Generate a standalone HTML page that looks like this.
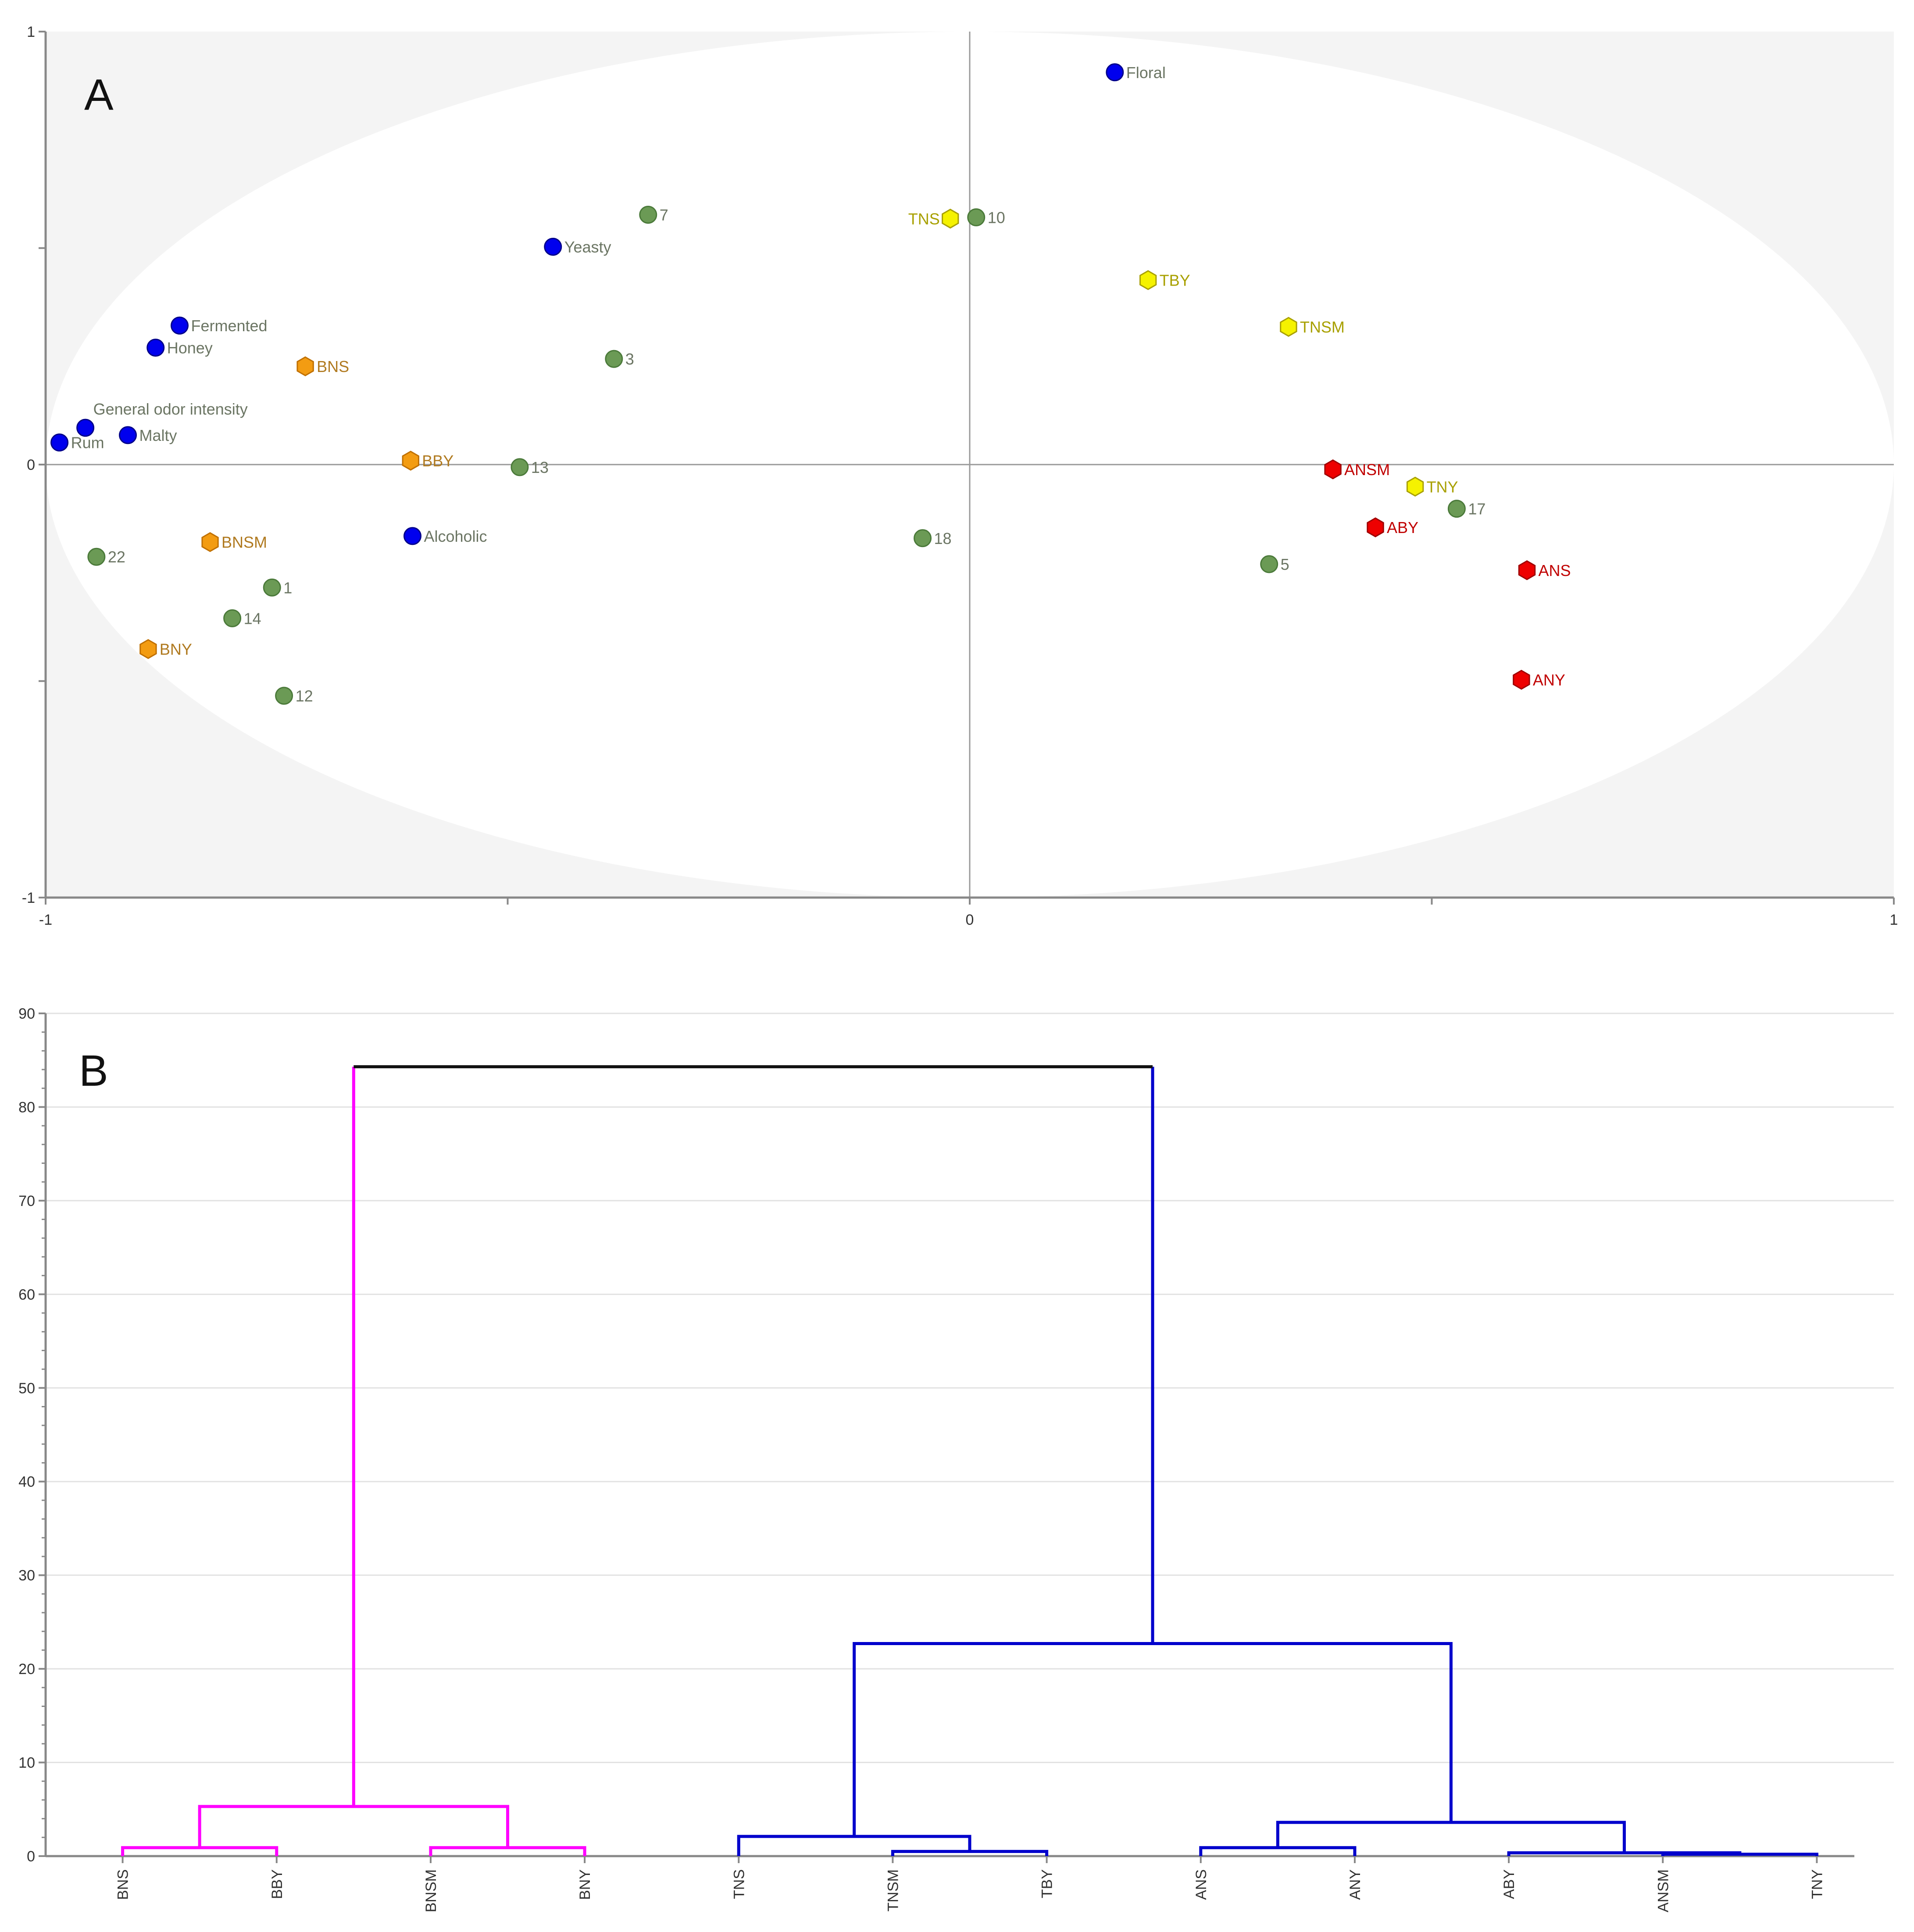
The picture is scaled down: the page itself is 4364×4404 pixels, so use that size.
<!DOCTYPE html>
<html><head><meta charset="utf-8">
<style>
html,body{margin:0;padding:0;background:#fff;}
svg{display:block;font-family:"Liberation Sans","DejaVu Sans",sans-serif;}
</style></head>
<body>
<svg id="chart" width="4364" height="4404" viewBox="0 0 4364 4404" xmlns="http://www.w3.org/2000/svg">
<g id="panelA"></g>
<g id="panelB"></g>
</svg>
<script>
// ---------- Panel A data ----------
const pcaNames = ["Floral","TNS","10","7","Yeasty","TBY","TNSM","Fermented","Honey","BNS","3","General odor intensity","Rum","Malty","BBY","13","ANSM","TNY","17","ABY","Alcoholic","18","BNSM","22","5","ANS","1","14","BNY","ANY","12"];
const pcaX = [0.157,-0.021,0.007,-0.348,-0.451,0.193,0.345,-0.855,-0.881,-0.719,-0.385,-0.957,-0.985,-0.911,-0.605,-0.487,0.393,0.482,0.527,0.439,-0.603,-0.051,-0.822,-0.945,0.324,0.603,-0.755,-0.798,-0.889,0.597,-0.742];
const pcaY = [0.906,0.568,0.571,0.577,0.503,0.426,0.318,0.321,0.270,0.227,0.244,0.085,0.051,0.068,0.009,-0.006,-0.011,-0.051,-0.102,-0.145,-0.165,-0.170,-0.179,-0.213,-0.230,-0.244,-0.284,-0.355,-0.426,-0.497,-0.534];
const pcaGroup = ["attr","T","num","num","attr","T","T","attr","attr","B","num","attr","attr","attr","B","num","A","T","num","A","attr","num","B","num","num","A","num","num","B","A","num"];
const axisTicksA = [-1,0,1];

// ---------- Panel B data ----------
const leaves = ["BNS","BBY","BNSM","BNY","TNS","TNSM","TBY","ANS","ANY","ABY","ANSM","TNY"];
// merges: children are leaf index (>=0) or -(merge index+1)
const mergeA = [0, 2, -1, 5, 4, 7, 10, 9, -6, -5, -3];
const mergeB = [1, 3, -2, 6, -4, 8, 11, -7, -8, -9, -10];
const mergeH = [0.9, 0.9, 5.3, 0.5, 2.1, 0.9, 0.2, 0.35, 3.6, 22.7, 84.3];
const yTicksB = [0,10,20,30,40,50,60,70,80,90];

const NS="http://www.w3.org/2000/svg";
function mk(tag, attrs, parent){const e=document.createElementNS(NS,tag);for(const k in attrs)e.setAttribute(k,attrs[k]);parent.appendChild(e);return e;}

// ===== Panel A =====
const A=document.getElementById('panelA');
const ax0=104, ax1=4318, ay0=72, ay1=2046;
const sxA=v=>ax0+(v+1)/2*(ax1-ax0);
const syA=v=>ay1-(v+1)/2*(ay1-ay0);
let r=mk('rect',{x:ax0,y:ay0,width:ax1-ax0,height:ay1-ay0,fill:'#f4f4f4'},A);


let el=mk('ellipse',{cx:(ax0+ax1)/2,cy:(ay0+ay1)/2,rx:(ax1-ax0)/2,ry:(ay1-ay0)/2,fill:'#ffffff'},A);


let l=mk('line',{x1:sxA(0),x2:sxA(0),y1:ay0,y2:ay1,stroke:'#999',"stroke-width":3},A);


l=mk('line',{x1:ax0,x2:ax1,y1:syA(0),y2:syA(0),stroke:'#999',"stroke-width":3},A);


l=mk('line',{x1:ax0,x2:ax0,y1:ay0,y2:ay1,stroke:'#888',"stroke-width":5},A);


l=mk('line',{x1:ax0,x2:ax1,y1:ay1,y2:ay1,stroke:'#888',"stroke-width":5},A);


[-1,-0.5,0,0.5,1].forEach(v=>{
  let t=mk('line',{x1:sxA(v),x2:sxA(v),y1:ay1,y2:ay1+16,stroke:'#888',"stroke-width":4},A);
  
  
  t=mk('line',{x1:ax0-16,x2:ax0,y1:syA(v),y2:syA(v),stroke:'#888',"stroke-width":4},A);
  
  
});
axisTicksA.forEach(v=>{
  let t=mk('text',{x:sxA(v),y:ay1+62,"font-size":34,fill:'#333',"text-anchor":'middle'},A);
  t.textContent=String(v);
  
  
  t=mk('text',{x:ax0-24,y:syA(v)+12,"font-size":34,fill:'#333',"text-anchor":'end'},A);
  t.textContent=String(v);
  
  
});
let pl=mk('text',{x:192,y:250,"font-size":100,fill:'#111'},A);
pl.textContent='A';



const sty={attr:{fill:'#0000ee',stroke:'#00008a',text:'#6b7563'},num:{fill:'#6b9a55',stroke:'#4b7a3a',text:'#6b7563'},
  B:{fill:'#f39c12',stroke:'#c07000',text:'#b07a20'},T:{fill:'#f5f200',stroke:'#a8a000',text:'#a8a000'},A:{fill:'#ee0000',stroke:'#a00000',text:'#c00000'}};
pcaNames.forEach((n,i)=>{
  const g=pcaGroup[i], s=sty[g], cx=sxA(pcaX[i]), cy=syA(pcaY[i]);
  let m;
  if(g==='attr'||g==='num'){
    m=mk('circle',{cx:cx,cy:cy,r:19,fill:s.fill,stroke:s.stroke,"stroke-width":3},A);
  } else {
    const R=21;let pts=[];
    for(let k=0;k<6;k++){const a=Math.PI/180*(60*k-90);pts.push((cx+R*Math.cos(a)).toFixed(1)+','+(cy+R*Math.sin(a)).toFixed(1));}
    m=mk('polygon',{points:pts.join(' '),fill:s.fill,stroke:s.stroke,"stroke-width":3},A);
  }
  
  
  let tx=cx+26, ty=cy+13, anchor='start';
  if(n==='TNS'){tx=cx-24;anchor='end';}
  if(n==='General odor intensity'){tx=cx+18;ty=cy-30;}
  const t=mk('text',{x:tx,y:ty,"font-size":36,fill:s.text,"text-anchor":anchor},A);
  t.textContent=n;
  
  
});

// ===== Panel B =====
const B=document.getElementById('panelB');
const bx0=104, bx1=4318, by0=4231, by90=2310;
const syB=v=>by0-(v/90)*(by0-by90);
const band=(bx1-bx0)/leaves.length;
const sxLeaf=i=>bx0+band*(i+0.5);
yTicksB.forEach(v=>{
  if(v>0){let g=mk('line',{x1:bx0,x2:bx1,y1:syB(v),y2:syB(v),stroke:'#e2e2e2',"stroke-width":3},B);
  
  }
  let t=mk('line',{x1:bx0-16,x2:bx0,y1:syB(v),y2:syB(v),stroke:'#888',"stroke-width":4},B);
  
  
  t=mk('text',{x:bx0-24,y:syB(v)+12,"font-size":34,fill:'#333',"text-anchor":'end'},B);
  t.textContent=String(v);
  
  
});
for(let v=2;v<90;v+=2){ if(v%10===0) continue;
  let t=mk('line',{x1:bx0-9,x2:bx0,y1:syB(v),y2:syB(v),stroke:'#888',"stroke-width":3},B);
  
  
}
l=mk('line',{x1:bx0,x2:bx0,y1:by90,y2:by0,stroke:'#888',"stroke-width":5},B);


l=mk('line',{x1:bx0,x2:4228,y1:by0,y2:by0,stroke:'#888',"stroke-width":5},B);


leaves.forEach((n,i)=>{
  let t=mk('line',{x1:sxLeaf(i),x2:sxLeaf(i),y1:by0,y2:by0+16,stroke:'#888',"stroke-width":4},B);
  
  
  const x=sxLeaf(i)+12, y=by0+30;
  t=mk('text',{x:x,y:y,"font-size":34,fill:'#333',"text-anchor":'end',transform:`rotate(-90 ${x} ${y})`},B);
  t.textContent=n;
  
  
});
pl=mk('text',{x:180,y:2475,"font-size":100,fill:'#111'},B);
pl.textContent='B';



const nodeX=[], nodeH=[];
function cpos(c){return c>=0?[sxLeaf(c),0]:[nodeX[-c-1],nodeH[-c-1]];}
const last=mergeA.length-1;
for(let k=0;k<mergeA.length;k++){
  const a=cpos(mergeA[k]), b=cpos(mergeB[k]), h=mergeH[k];
  nodeX[k]=(a[0]+b[0])/2; nodeH[k]=h;
  const col = k<3?'#ff00ff':'#0000cc';
  if(k===last){
    let p=mk('path',{d:`M${a[0]},${syB(a[1])}V${syB(h)}`,fill:'none',stroke:'#ff00ff',"stroke-width":7},B);
    
    
    p=mk('path',{d:`M${b[0]},${syB(b[1])}V${syB(h)}`,fill:'none',stroke:'#0000cc',"stroke-width":7},B);
    
    
    p=mk('path',{d:`M${a[0]},${syB(h)}H${b[0]}`,fill:'none',stroke:'#111',"stroke-width":7},B);
    
    
  } else {
    const p=mk('path',{d:`M${a[0]},${syB(a[1])}V${syB(h)}H${b[0]}V${syB(b[1])}`,fill:'none',stroke:col,"stroke-width":7},B);
    
    
  }
}
</script>
</body></html>
